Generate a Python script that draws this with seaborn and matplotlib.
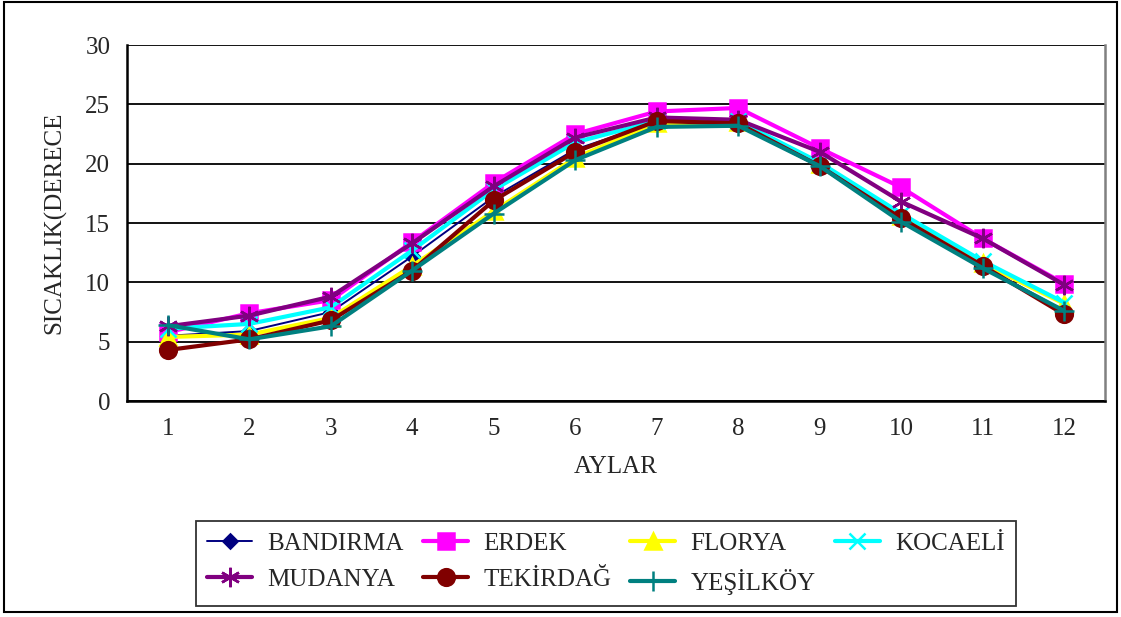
import matplotlib
matplotlib.use('Agg')
import matplotlib.pyplot as plt
from matplotlib.patches import Rectangle
import seaborn as sns
import numpy as np
import pandas as pd

# Monthly mean temperatures per station
months = list(range(1, 13))
stations = ['BANDIRMA', 'ERDEK', 'FLORYA', 'KOCAELİ',
            'MUDANYA', 'TEKİRDAĞ', 'YEŞİLKÖY']

bandirma = [5.5, 5.9, 7.5, 12.2, 17.2, 21.2, 23.5, 23.4, 20.0, 15.6, 11.4, 7.6]
erdek    = [5.8, 7.4, 8.5, 13.4, 18.4, 22.5, 24.4, 24.7, 21.3, 18.0, 13.7, 9.9]
florya   = [5.4, 5.6, 7.0, 11.4, 16.0, 20.5, 23.4, 23.5, 20.0, 15.6, 11.6, 8.2]
kocaeli  = [6.1, 6.5, 7.9, 12.7, 17.8, 21.8, 23.6, 23.6, 20.1, 15.8, 11.8, 8.3]
mudanya  = [6.3, 7.2, 8.8, 13.3, 18.1, 22.2, 23.9, 23.7, 21.0, 16.8, 13.7, 9.8]
tekirdag = [4.3, 5.2, 6.8, 11.0, 16.9, 21.0, 23.6, 23.4, 19.8, 15.4, 11.4, 7.3]
yesilkoy = [6.4, 5.2, 6.3, 11.0, 15.8, 20.3, 23.1, 23.2, 19.8, 15.1, 11.2, 7.6]

values = [bandirma, erdek, florya, kocaeli, mudanya, tekirdag, yesilkoy]

# long table for seaborn
df = pd.DataFrame({
    'month': months * len(stations),
    'station': np.repeat(stations, len(months)),
    'temp': np.concatenate(values),
})

# Excel-like styles: colour, marker, marker size, line width
styles = {
    'BANDIRMA': ('#000080', 'D', 7, 1.4),
    'ERDEK':    ('#FF00FF', 's', 12, 3.0),
    'FLORYA':   ('#FFFF00', '^', 12, 3.0),
    'KOCAELİ':  ('#00FFFF', 'x', 11, 3.0),
    'MUDANYA':  ('#800080', (6, 2, 0), 14, 3.0),
    'TEKİRDAĞ': ('#800000', 'o', 12, 3.0),
    'YEŞİLKÖY': ('#008080', '+', 15, 3.0),
}

sns.set_style('white')
plt.rcParams['font.family'] = ['Liberation Serif', 'DejaVu Serif']
plt.rcParams['font.size'] = 18

fig = plt.figure(figsize=(11.21, 6.17), dpi=100)
ax = fig.add_axes([0.1133, 0.35, 0.8724, 0.577])

for name in stations:
    col, mk, ms, lw = styles[name]
    sub = df[df['station'] == name]
    sns.lineplot(data=sub, x='month', y='temp', ax=ax, color=col,
                 marker=mk, markersize=ms, linewidth=lw,
                 markeredgecolor=col, markerfacecolor=col,
                 markeredgewidth=1.8, label=name, legend=False)

# axes layout
ax.set_xlim(0.5, 12.5)
ax.set_ylim(0, 30)
ax.set_yticks(range(0, 31, 5))
ax.set_xticks(months)
ax.set_xticks(np.arange(0.5, 13, 1), minor=True)
ax.tick_params(axis='x', which='major', length=0, pad=12)
ax.tick_params(axis='x', which='minor', length=7, width=1.5,
               direction='out', color='black')
ax.tick_params(axis='y', length=6, width=1.5, direction='out',
               color='black', pad=6)
ax.yaxis.grid(True, color='black', linewidth=1.3)
ax.set_axisbelow(True)

for s in ['left', 'bottom']:
    ax.spines[s].set_color('black')
    ax.spines[s].set_linewidth(1.8)
ax.spines['right'].set_color('#808080')
ax.spines['right'].set_linewidth(1.8)
ax.spines['top'].set_visible(False)

ax.set_xlabel('AYLAR', labelpad=12)
ax.set_ylabel('SICAKLIK(DERECE', labelpad=14)

# legend box under the plot, filled row by row like the reference
h, l = ax.get_legend_handles_labels()
order = [0, 4, 1, 5, 2, 6, 3]
leg = fig.legend([h[i] for i in order], [l[i] for i in order], ncol=4,
                 loc='lower left',
                 bbox_to_anchor=(0.175, 0.018, 0.731, 0.136),
                 mode='expand', frameon=True, fancybox=False,
                 edgecolor='black', handlelength=1.8, handletextpad=0.6,
                 borderaxespad=0, labelspacing=0.55, borderpad=0.45)
leg.get_frame().set_linewidth(1.3)

# outer chart border
fig.patches.append(Rectangle((0.004, 0.008), 0.992, 0.988,
                             transform=fig.transFigure, fill=False,
                             edgecolor='black', linewidth=1.5))

fig.savefig('out.png', dpi=100)
